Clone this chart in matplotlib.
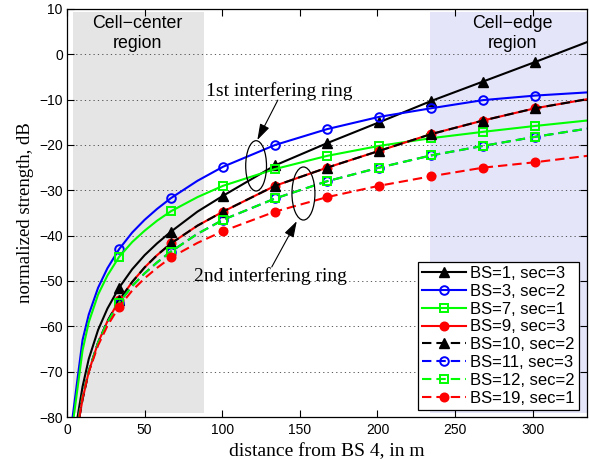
import matplotlib
matplotlib.use("Agg")
import matplotlib.pyplot as plt
from matplotlib.lines import Line2D
from matplotlib.patches import Ellipse, Rectangle

plt.rcParams['font.family'] = ['Liberation Sans', 'DejaVu Sans']
plt.rcParams['axes.unicode_minus'] = True

# distance from BS 4 (m) at which every curve is sampled
dist = [10, 14, 20, 26, 33.5, 42, 50, 58, 67, 84, 100.5, 134, 167.5, 201,
        234.5, 268, 301.5, 335]
# markers sit on these distances
mark_dist = [33.5, 67, 100.5, 134, 167.5, 201, 234.5, 268, 301.5]
# the plot floor, and where each curve comes up through it
floor_db = -80
bs1_sec3_d0 = 6.8
bs3_sec2_d0 = 3.6
bs7_sec1_d0 = 4.3
bs9_sec3_d0 = 8.0
bs10_sec2_d0 = 8.0
bs11_sec3_d0 = 7.6
bs12_sec2_d0 = 7.6
bs19_sec1_d0 = 7.9

# normalized strength (dB) at the distances above
bs1_sec3 = [-73.3, -67.2, -60.8, -56.1, -51.5, -47.4, -44.3, -41.7, -39.1,
            -34.7, -31.2, -24.5, -19.6, -15.0, -10.3, -6.0, -1.7, 2.7]
bs3_sec2 = [-63.0, -57.4, -51.5, -47.2, -43.0, -39.3, -36.5, -34.1, -31.7,
            -27.9, -24.8, -20.0, -16.5, -13.8, -11.9, -10.1, -9.1, -8.4]
bs7_sec1 = [-65.3, -59.1, -53.0, -48.8, -44.7, -41.4, -38.9, -36.7, -34.6,
            -31.5, -29.0, -25.3, -22.4, -20.2, -18.5, -17.1, -15.8, -14.6]
bs9_sec3 = [-76.1, -70.0, -63.6, -58.9, -54.3, -50.2, -47.0, -44.3, -41.7,
            -37.8, -34.7, -29.0, -25.0, -21.3, -17.6, -14.6, -11.9, -9.9]
bs10_sec2 = [-76.1, -70.0, -63.6, -58.9, -54.3, -50.2, -47.0, -44.3, -41.7,
             -37.8, -34.7, -29.0, -25.0, -21.3, -17.6, -14.6, -11.9, -9.9]
bs11_sec3 = [-75.4, -69.8, -63.6, -59.1, -54.8, -51.1, -48.3, -45.9, -43.5,
             -39.6, -36.5, -31.8, -28.0, -25.0, -22.3, -20.2, -18.2, -16.4]
bs12_sec2 = [-75.4, -69.8, -63.6, -59.1, -54.8, -51.1, -48.3, -45.9, -43.5,
             -39.6, -36.5, -31.8, -28.0, -25.0, -22.3, -20.2, -18.2, -16.4]
bs19_sec1 = [-75.7, -70.1, -64.2, -59.9, -55.7, -52.1, -49.4, -47.1, -44.8,
             -41.6, -39.0, -34.7, -31.5, -29.0, -26.9, -25.0, -23.8, -22.4]

labels = ['BS=1, sec=3', 'BS=3, sec=2', 'BS=7, sec=1', 'BS=9, sec=3',
          'BS=10, sec=2', 'BS=11, sec=3', 'BS=12, sec=2', 'BS=19, sec=1']

# shaded cell-center / cell-edge bands
center_band = [3.9, 88.2]
edge_band = [233.6, 335]
band_db = [-79.2, 9.3]

dashed = (0, (4.5, 2.4))
series = [
    (labels[0], bs1_sec3_d0, bs1_sec3, 'k', '-', '^', 'k'),
    (labels[1], bs3_sec2_d0, bs3_sec2, 'b', '-', 'o', 'none'),
    (labels[2], bs7_sec1_d0, bs7_sec1, '#00ff00', '-', 's', 'none'),
    (labels[3], bs9_sec3_d0, bs9_sec3, 'r', '-', 'o', 'r'),
    (labels[4], bs10_sec2_d0, bs10_sec2, 'k', dashed, '^', 'k'),
    (labels[5], bs11_sec3_d0, bs11_sec3, 'b', dashed, 'o', 'none'),
    (labels[6], bs12_sec2_d0, bs12_sec2, '#00ff00', dashed, 's', 'none'),
    (labels[7], bs19_sec1_d0, bs19_sec1, 'r', dashed, 'o', 'r'),
]
marker_size = {'^': 7.5, 'o': 6.2, 's': 5.2}

fig = plt.figure(figsize=(5.89, 4.59), dpi=100)
ax = fig.add_axes([0.1138, 0.0915, 0.8829, 0.8889])

ax.add_patch(Rectangle((center_band[0], band_db[0]),
                       center_band[1] - center_band[0],
                       band_db[1] - band_db[0],
                       facecolor='#e5e5e5', edgecolor='none', zorder=0.2))
ax.add_patch(Rectangle((edge_band[0], band_db[0]),
                       edge_band[1] - edge_band[0],
                       band_db[1] - band_db[0],
                       facecolor='#e5e5fa', edgecolor='none', zorder=0.2))

handles = []
for label, d0, vals, color, ls, marker, mfc in series:
    xs = [d0] + dist
    ys = [floor_db] + vals
    idx = [xs.index(d) for d in mark_dist]
    style = dict(color=color, linestyle=ls, linewidth=1.5, marker=marker,
                 markersize=marker_size[marker], markerfacecolor=mfc,
                 markeredgecolor=color,
                 markeredgewidth=1.0 if mfc != 'none' else 1.4)
    ax.plot(xs, ys, markevery=idx, **style)
    handles.append(Line2D([], [], label=label, **style))

ax.set_xlim(0, 335)
ax.set_ylim(-80, 10)
ax.set_xticks(range(0, 301, 50))
ax.set_yticks(range(-80, 11, 10))
ax.yaxis.grid(True, linestyle=(0, (1.5, 3.7)), color='0.25', linewidth=0.6)
ax.set_axisbelow(True)
ax.tick_params(direction='in', top=True, right=True, length=5, width=0.8,
               labelsize=10, pad=3)
ax.tick_params(axis='x', pad=4)
for sp in ax.spines.values():
    sp.set_linewidth(0.9)

serif = ['Liberation Serif', 'DejaVu Serif']
ax.set_xlabel('distance from BS 4, in m', family=serif, fontsize=14,
              labelpad=5)
ax.set_ylabel('normalized strength, dB', family=serif, fontsize=13.5,
              labelpad=4)

# region captions
ax.text(45.4, 6.85, 'Cell\u2212center', ha='center', va='center',
        fontsize=12.8)
ax.text(45.4, 2.4, 'region', ha='center', va='center', fontsize=12.8)
ax.text(287, 6.85, 'Cell\u2212edge', ha='center', va='center',
        fontsize=12.8)
ax.text(287, 2.4, 'region', ha='center', va='center', fontsize=12.8)

# ring callouts
ax.add_patch(Ellipse((121.8, -24.6), 13.4, 11.1, fill=False,
                     edgecolor='k', linewidth=0.9, zorder=4))
ax.add_patch(Ellipse((152.3, -30.7), 14.8, 11.7, fill=False,
                     edgecolor='k', linewidth=0.9, zorder=4))
arrow = dict(arrowstyle='-|>,head_length=0.7,head_width=0.22',
             color='k', lw=0.8, shrinkA=0, shrinkB=0, mutation_scale=14)
ax.annotate('', xy=(122.6, -18.9), xytext=(135.8, -10.1),
            arrowprops=arrow, zorder=4)
ax.annotate('', xy=(148.0, -36.8), xytext=(131.9, -46.9),
            arrowprops=arrow, zorder=4)
ax.text(136.4, -8.1, '1st interfering ring', ha='center', va='center',
        family=serif, fontsize=14)
ax.text(131.3, -48.9, '2nd interfering ring', ha='center', va='center',
        family=serif, fontsize=14)

leg = ax.legend(handles=handles, loc='lower right',
                bbox_to_anchor=(0.9846, 0.0172), borderaxespad=0,
                fontsize=12, numpoints=1, handlelength=2.65,
                handletextpad=0.26, labelspacing=0.17, borderpad=0.25,
                fancybox=False, framealpha=1, edgecolor='k')
leg.get_frame().set_linewidth(0.9)
leg.set_zorder(5)

fig.savefig('out.png', dpi=100)
